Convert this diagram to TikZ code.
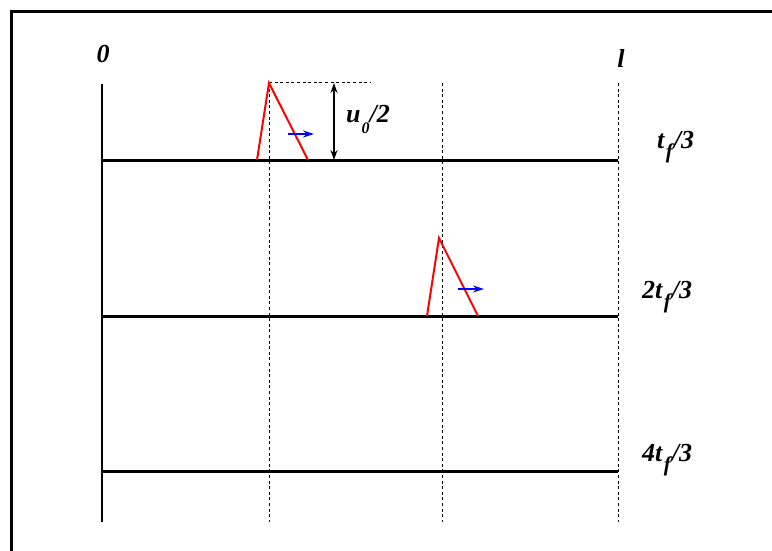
\documentclass[tikz,border=0pt]{standalone}
\usepackage{fontspec}
\setmainfont{Liberation Serif}
\usetikzlibrary{arrows.meta}
\tikzset{
  frameline/.style={line width=2.5pt},
  axisline/.style={line width=1.5pt},
  timeline/.style={line width=3pt},
  guideline/.style={line width=1pt, dash pattern=on 3pt off 2.6pt},
  pulse/.style={red, line width=2pt, line join=miter},
  motion/.style={blue, line width=1.3pt, -{Stealth[length=11pt,width=7pt]}},
  measure/.style={line width=1.2pt, {Stealth[length=10pt,width=7pt]}-{Stealth[length=10pt,width=7pt]}},
  lbl/.style={font=\fontsize{26}{28}\selectfont\bfseries\itshape, inner sep=0pt},
}
\newcommand{\subf}{\kern1.5pt\raisebox{-10pt}{\fontsize{21}{22}\selectfont f}\kern1pt}
\newcommand{\subzero}{\kern1pt\raisebox{-11pt}{\fontsize{16}{17}\selectfont 0}}
\begin{document}
\begin{tikzpicture}[x=1pt,y=-1pt]
\useasboundingbox (0,0) rectangle (772,551);
\clip (0,0) rectangle (772,551);
\fill[white] (0,0) rectangle (772,551);
% frame (right and bottom lie outside the picture)
\draw[frameline] (11.5,800) -- (11.5,11.5) -- (900,11.5);
% points
\coordinate (ax0) at (102,84);
\coordinate (ax1) at (102,522);
\coordinate (r1a) at (102,160); \coordinate (r1b) at (618,160);
\coordinate (r2a) at (102,316); \coordinate (r2b) at (618,316);
\coordinate (r3a) at (102,471); \coordinate (r3b) at (618,471);
\coordinate (g1a) at (269,83); \coordinate (g1b) at (269,522);
\coordinate (g2a) at (442,83); \coordinate (g2b) at (442,522);
\coordinate (g3a) at (618,83); \coordinate (g3b) at (618,522);
\coordinate (p1l) at (257,160); \coordinate (p1t) at (269,83); \coordinate (p1r) at (308,160);
\coordinate (p2l) at (427,316); \coordinate (p2t) at (439,238); \coordinate (p2r) at (478,316);
\coordinate (h1) at (370,83);
\coordinate (m1) at (334,83); \coordinate (m2) at (334,160);
\coordinate (b1s) at (288,134); \coordinate (b1e) at (314,134);
\coordinate (b2s) at (458,289); \coordinate (b2e) at (484,289);
% axis and guides
\draw[axisline] (ax0) -- (ax1);
\draw[guideline] (g1a) -- (g1b);
\draw[guideline] (g2a) -- (g2b);
\draw[guideline] (g3a) -- (g3b);
\draw[guideline] (p1t) -- (h1);
% time lines
\draw[timeline] (r1a) -- (r1b);
\draw[timeline] (r2a) -- (r2b);
\draw[timeline] (r3a) -- (r3b);
% pulses
\draw[pulse] (p1l) -- (p1t) -- (p1r);
\draw[pulse] (p2l) -- (p2t) -- (p2r);
\draw[motion] (b1s) -- (b1e);
\draw[motion] (b2s) -- (b2e);
\draw[measure] (m1) -- (m2);
% labels
\node[lbl, anchor=base] (l0) at (103,63) {0};
\node[lbl, anchor=base] (ll) at (621,68) {l};
\node[lbl, anchor=base west] (lu) at (346,122) {u\subzero/2};
\node[lbl, anchor=base west] (lt1) at (657,148) {t\subf/3};
\node[lbl, anchor=base west] (lt2) at (642,298) {2t\subf/3};
\node[lbl, anchor=base west] (lt3) at (642,461) {4t\subf/3};
\end{tikzpicture}
\end{document}
